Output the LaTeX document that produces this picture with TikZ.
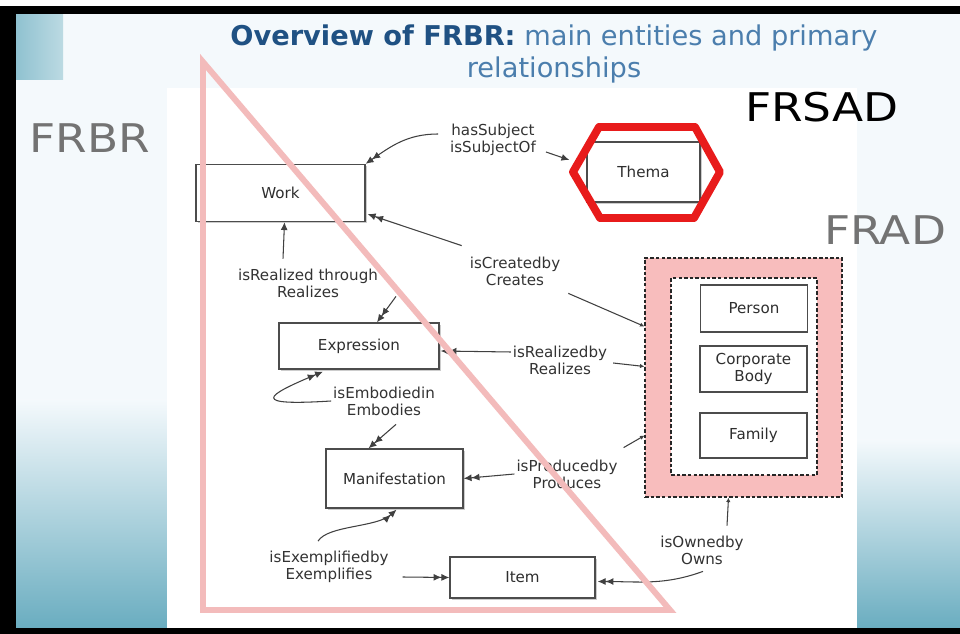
\documentclass[tikz,border=0pt]{standalone}
\usepackage{fontspec}
\setmainfont{DejaVu Sans}
\newfontfamily\bigfont[FakeStretch=1.15]{DejaVu Sans}
\usepackage{tikz}
\usetikzlibrary{positioning}
\usetikzlibrary{calc,arrows.meta,shadows}

\definecolor{slidebg}{HTML}{F4F9FC}
\definecolor{slideteal}{HTML}{6AADC0}
\definecolor{titledark}{HTML}{1F5183}
\definecolor{titlelight}{HTML}{4B7EAD}
\definecolor{trianglepink}{HTML}{F3BBBB}
\definecolor{fradpink}{HTML}{F8BDBD}
\definecolor{hexred}{HTML}{E81B1B}
\definecolor{linegray}{HTML}{404040}

\tikzset{
	entity/.style={draw=black!70, fill=white, line width=0.75pt, text=black!82,
		font=\fontsize{8.6}{10}\selectfont, align=center,
		drop shadow={opacity=0.4, shadow xshift=1pt, shadow yshift=-1pt}},
	agent/.style={draw=black!70, fill=white, line width=0.75pt, text=black!82,
		font=\fontsize{8.6}{10}\selectfont, align=center, minimum width=2.14cm},
	group/.style={draw=black!85, line width=0.7pt, dash pattern=on 2pt off 1.2pt},
	rel/.style={font=\fontsize{8.6}{9.6}\selectfont, text=black!80, align=center, inner sep=1pt},
	link/.style={draw=linegray, line width=0.6pt},
	toone/.style={link, -{Latex[length=4.5pt,width=4pt]}},
	tomany/.style={link, -{Latex[length=4.5pt,width=4pt]Latex[length=4.5pt,width=4pt]}},
	togroup/.style={link, -{Latex[length=2.5pt,width=2.5pt]}},
	framelabel/.style={font=\bigfont\fontsize{22.5}{26}\selectfont, inner sep=0pt},
}

\begin{document}
\begin{tikzpicture}[x=0.02cm, y=-0.02cm]

	\useasboundingbox (0,0) rectangle (960,634);

	%Slide
	\fill[white] (0,0) rectangle (960,634);
	\fill[slidebg] (16,14) rectangle (960,628);
	\shade[top color=slidebg, middle color=slideteal!35!slidebg, bottom color=slideteal] (16,400) rectangle (167,628);
	\shade[top color=slidebg, middle color=slideteal!30!slidebg, bottom color=slideteal] (857,440) rectangle (960,628);
	\shade[left color=slideteal!75, right color=slideteal!45] (16,14) rectangle (63,80);
	\fill[white] (167,88) rectangle (857,628);
	\fill[black] (0,6) rectangle (960,14);
	\fill[black] (0,6) rectangle (16,634);
	\fill[black] (0,628) rectangle (960,634);

	\node[align=center, text=titlelight, font=\fontsize{15.5}{18.2}\selectfont] (title) at (554,54)
		{\textcolor{titledark}{\textbf{Overview of FRBR:}} main entities and primary\\relationships};

	\node[framelabel, text=black!55] (frbr) at (90,138) {FRBR};
	\node[framelabel, text=black] (frsad) at (822,107) {FRSAD};
	\node[framelabel, text=black!55] (frad) at (885,230) {FRAD};

	%Entities
	\node[entity, minimum width=3.38cm, minimum height=1.14cm] (Work) at (280.5,193) {Work};
	\node[entity, minimum width=2.26cm, minimum height=1.2cm] (Thema) at (643.5,172) {Thema};
	\node[entity, minimum width=3.2cm, minimum height=0.92cm] (Expression) at (359,346) {Expression};
	\node[entity, minimum width=2.74cm, minimum height=1.18cm] (Manifestation) at (394.5,478.5) {Manifestation};
	\node[entity, minimum width=2.9cm, minimum height=0.82cm] (Item) at (522.5,577.5) {Item};

	\node[group, fill=fradpink, minimum width=3.94cm, minimum height=4.78cm] (FRADgroup) at (743.5,377.5) {};
	\node[group, fill=white, minimum width=2.92cm, minimum height=3.94cm] (FRADinner) at (744,376.5) {};
	\node[agent, minimum height=0.94cm] (Person) at (754,308.5) {Person};
	\node[agent, minimum height=0.92cm] (Corporate) at (753.5,369) {Corporate\\Body};
	\node[agent, minimum height=0.9cm] (Family) at (753.5,435.5) {Family};

	%Relationships
	\node[rel] (subj) at (493,140) {hasSubject\\isSubjectOf};
	\node[rel] (created) at (515,271) {isCreatedby\\Creates};
	\node[rel] (realthrough) at (308,283) {isRealized through\\Realizes};
	\node[rel] (realby) at (560,360) {isRealizedby\\Realizes};
	\node[rel] (embodied) at (384,401) {isEmbodiedin\\Embodies};
	\node[rel] (produced) at (567,474) {isProducedby\\Produces};
	\node[rel] (owned) at (702,550) {isOwnedby\\Owns};
	\node[rel] (exemplified) at (329,567) {isExemplifiedby\\Exemplifies};

	\draw[tomany] ($(subj.west)+(-10,-6)$) to[out=180,in=35] (Work.north east);
	\draw[toone] ($(subj.east)+(8,12)$) -- ($(Thema.west)+(-17,-12)$);

	\draw[tomany] ($(created.north west)+(-6,-9)$) -- ($(Work.south east)+(2,-8)$);
	\draw[togroup] ($(created.south east)+(6,6)$) -- ($(FRADgroup.north west)+(0,69)$);

	\draw[toone] ($(realthrough.north)+(-25,-8)$) -- ($(Work.south)+(4,0)$);
	\draw[tomany] ($(realthrough.south east)+(16,-3)$) -- ($(Expression.north)+(18,0)$);

	\draw[tomany] ($(realby.west)+(0,-8)$) -- ($(Expression.east)+(1,5)$);
	\draw[togroup] ($(realby.east)+(4,3)$) -- ($(FRADgroup.west)+(0,-11)$);

	\draw[tomany] (embodied.west) .. controls +(-80,5) and +(-60,25) .. ($(Expression.south)+(-36,2)$);
	\draw[tomany] ($(embodied.south)+(12,7)$) -- ($(Manifestation.north)+(-26,0)$);

	\draw[tomany] (produced.west) -- (Manifestation.east);
	\draw[togroup] ($(produced.north east)+(4,-10)$) -- ($(FRADgroup.south west)+(0,-62)$);

	\draw[tomany] ($(exemplified.north)+(-11,-8)$) .. controls +(10,-16) and +(-20,18) .. ($(Manifestation.south)+(2,1)$);
	\draw[tomany] ($(exemplified.east)+(12,10)$) -- (Item.west);

	\draw[togroup] ($(owned.north)+(25,-8)$) -- ($(FRADgroup.south)+(-15,0)$);
	\draw[tomany] ($(owned.south)+(1,5)$) to[out=-160,in=0] ($(Item.east)+(2,4)$);

	%Marks
	\draw[trianglepink, line width=3.4pt] (203,62) -- (203,610) -- (670,610) -- cycle;
	\draw[hexred, line width=4.5pt, line join=round] (573,172) -- (599,127) -- (695,127) -- (720,172) -- (694,218) -- (600,218) -- cycle;

\end{tikzpicture}
\end{document}
